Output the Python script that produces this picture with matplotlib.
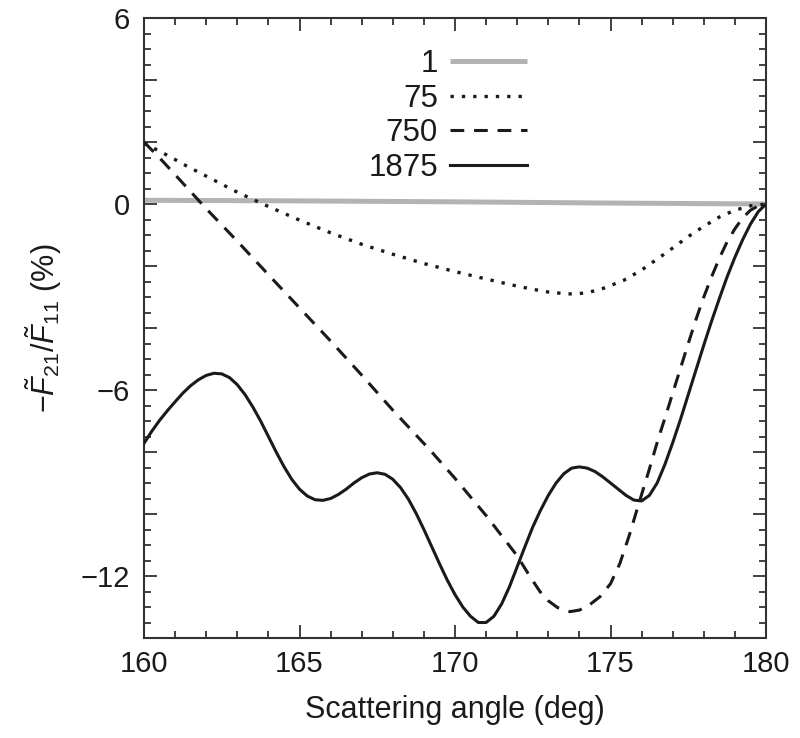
import matplotlib
matplotlib.use("Agg")
import matplotlib.pyplot as plt
from matplotlib.ticker import MultipleLocator, FuncFormatter

plt.rcParams['font.family'] = ['Liberation Sans', 'DejaVu Sans']
plt.rcParams['mathtext.fontset'] = 'custom'
plt.rcParams['mathtext.rm'] = 'Liberation Sans'
plt.rcParams['mathtext.it'] = 'Liberation Sans:italic'
plt.rcParams['mathtext.sf'] = 'Liberation Sans'

# ---- data ----
labels = ["1", "75", "750", "1875"]

x_1 = [160, 165, 170, 175, 180]
y_1 = [0.12, 0.10, 0.07, 0.03, 0.0]

x_75 = [160, 160.62, 160.94, 161.21, 161.42, 162, 163, 164, 165, 166, 167, 168, 169, 170,
        171, 172, 172.5, 173, 173.4, 173.7, 174.0, 174.3, 174.77, 175.41, 176.0, 176.54,
        177, 177.5, 178, 178.5, 179, 179.5, 180]
y_75 = [1.96, 1.64, 1.47, 1.31, 1.2, 0.9, 0.38, -0.08, -0.52, -0.93, -1.3, -1.62, -1.92, -2.18,
        -2.42, -2.65, -2.75, -2.84, -2.88, -2.9, -2.89, -2.85, -2.72, -2.47, -2.13, -1.75,
        -1.42, -1.05, -0.72, -0.42, -0.2, -0.06, 0.0]

x_750 = [160, 160.62, 161.16, 162, 163, 164, 165, 166, 167, 168, 169.2, 170, 171, 172,
         172.4, 172.73, 173.0, 173.3, 173.7, 174.0, 174.3, 174.66, 175.0, 175.3, 175.6,
         175.93, 176.25, 176.54, 176.8, 177.0, 177.25, 177.5, 177.75, 178.0, 178.25, 178.5,
         178.75, 179.0, 179.25, 179.5, 179.75, 180]
y_750 = [2.0, 1.36, 0.77, -0.15, -1.2, -2.28, -3.35, -4.42, -5.52, -6.65, -7.94, -8.85, -10.05,
         -11.35, -12.0, -12.5, -12.8, -13.02, -13.15, -13.1, -12.95, -12.67, -12.25, -11.6,
         -10.7, -9.6, -8.55, -7.56, -6.75, -6.1, -5.3, -4.5, -3.72, -3.0, -2.35, -1.75,
         -1.22, -0.8, -0.45, -0.2, -0.06, 0.0]

x_1875 = [160.0, 160.25, 160.5, 160.75, 161.0, 161.25, 161.5, 161.75, 162.0, 162.25, 162.5,
          162.75, 163.0, 163.25, 163.5, 163.75, 164.0, 164.25, 164.5, 164.75, 165.0, 165.25,
          165.5, 165.75, 166.0, 166.25, 166.5, 166.75, 167.0, 167.25, 167.5, 167.75, 168.0,
          168.25, 168.5, 168.75, 169.0, 169.25, 169.5, 169.75, 170.0, 170.25, 170.5, 170.75,
          171.0, 171.25, 171.5, 171.75, 172.0, 172.25, 172.5, 172.75, 173.0, 173.25, 173.5,
          173.75, 174.0, 174.25, 174.5, 174.75, 175.0, 175.25, 175.5, 175.75, 176.0, 176.25,
          176.5, 176.75, 177.0, 177.25, 177.5, 177.75, 178.0, 178.25, 178.5, 178.75, 179.0,
          179.25, 179.5, 179.75, 180.0]
y_1875 = [-7.72, -7.33, -6.98, -6.67, -6.38, -6.1, -5.86, -5.67, -5.53, -5.46, -5.48,
          -5.6, -5.83, -6.15, -6.55, -7.0, -7.5, -8.0, -8.47, -8.88, -9.2, -9.42,
          -9.54, -9.56, -9.5, -9.37, -9.2, -9.0, -8.83, -8.71, -8.67, -8.72, -8.88,
          -9.15, -9.52, -9.98, -10.5, -11.05, -11.6, -12.13, -12.6, -13.0, -13.3, -13.5,
          -13.5, -13.3, -12.9, -12.35, -11.7, -11.05, -10.42, -9.88, -9.4, -9.0, -8.7,
          -8.52, -8.48, -8.52, -8.63, -8.8, -9.0, -9.2, -9.4, -9.55, -9.58, -9.4,
          -9.0, -8.4, -7.7, -6.95, -6.15, -5.35, -4.55, -3.78, -3.05, -2.35, -1.72,
          -1.15, -0.65, -0.25, 0.0]

x_ticks_major = [160, 165, 170, 175, 180]
y_tick_labels = [6, 0, -6, -12]

# ---- figure ----
fig = plt.figure(figsize=(8.0, 7.38), dpi=100)
ax = fig.add_axes([144/800, 1 - 638/738, (766-144)/800, (638-18)/738])

ink = '#1a1a1a'
ax.plot(x_1, y_1, color='#b3b3b3', lw=3.6, solid_capstyle='butt', label=labels[0], zorder=2)
ax.plot(x_75, y_75, color=ink, lw=2.4, dashes=(1.0, 2.4), dash_capstyle='butt', label=labels[1], zorder=3)
ax.plot(x_750, y_750, color=ink, lw=2.2, dashes=(4.5, 3.2), label=labels[2], zorder=3)
ax.plot(x_1875, y_1875, color=ink, lw=2.2, label=labels[3], zorder=3)

ax.set_xlim(160, 180)
ax.set_ylim(-14, 6)
ax.set_xticks(x_ticks_major)
ax.xaxis.set_minor_locator(MultipleLocator(1))
ax.yaxis.set_major_locator(MultipleLocator(2))
ax.yaxis.set_minor_locator(MultipleLocator(0.5))

def yfmt(v, pos):
    iv = int(round(v))
    if iv in y_tick_labels:
        return f"{iv}".replace('-', '\u2212')
    return ""
ax.yaxis.set_major_formatter(FuncFormatter(yfmt))

ax.tick_params(which='both', direction='in', top=True, right=True, color='#333333',
               width=1.3, labelsize=21, labelcolor=ink)
ax.tick_params(which='major', length=9.5)
ax.tick_params(which='minor', length=5)
ax.tick_params(axis='x', which='major', pad=9)
ax.tick_params(axis='y', which='major', pad=10)
for s in ax.spines.values():
    s.set_linewidth(1.5)
    s.set_color('#333333')

ax.set_xlabel("Scattering angle (deg)", fontsize=22, color=ink, labelpad=12)
ax.set_ylabel(r"$-\tilde{F}_{21}/\tilde{F}_{11}$ (%)", fontsize=22, color=ink, labelpad=12)

leg = ax.legend(loc='upper right', bbox_to_anchor=((527-144)/622, (638-49)/620),
                frameon=False, fontsize=22.5, markerfirst=False, handlelength=2.45,
                handletextpad=0.4, labelspacing=0.15, borderpad=0, borderaxespad=0)
for t in leg.get_texts():
    t.set_color(ink)

fig.savefig("out.png", dpi=100)
